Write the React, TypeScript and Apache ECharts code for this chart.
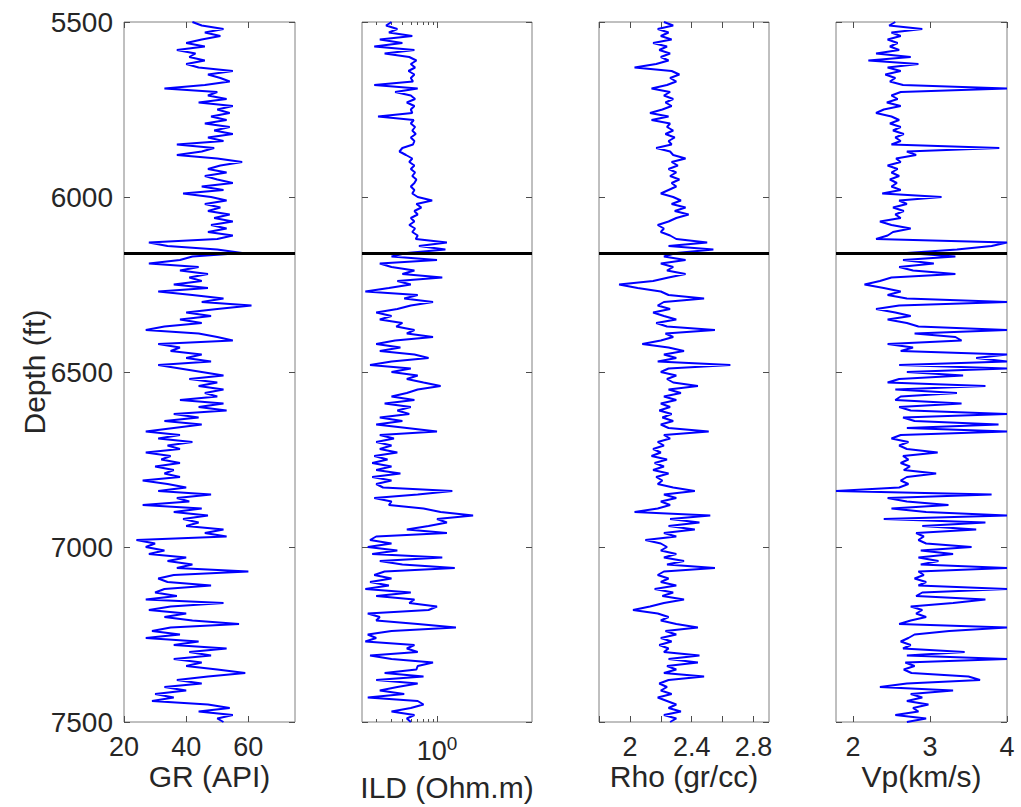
import React, { useEffect, useRef } from "react";
import * as echarts from "echarts";

// depth sampling grid (ft), 10-ft step from 5500 to 7500
const DEPTHS: number[] = Array.from({ length: 201 }, (_, i) => 5500 + 10 * i);

// GR (API)
const GR = [
  42, 45, 52, 46, 51, 45, 40, 46, 37, 43,
  41, 46, 40, 44, 55, 47, 51, 54, 46, 33,
  50, 47, 53, 44, 55, 50, 54, 48, 53, 46,
  54, 49, 55, 47, 52, 37, 49, 45, 37, 50,
  58, 51, 47, 53, 46, 50, 55, 45, 52, 39,
  48, 53, 46, 51, 47, 54, 49, 55, 48, 53,
  47, 55, 50, 28, 34, 50, 58, 42, 38, 28,
  44, 38, 47, 41, 45, 36, 47, 31, 42, 52,
  45, 61, 50, 40, 48, 38, 45, 33, 27, 44,
  50, 55, 31, 38, 35, 45, 40, 48, 31, 38,
  45, 52, 41, 50, 44, 52, 46, 50, 38, 52,
  44, 53, 36, 44, 33, 45, 36, 27, 38, 31,
  42, 34, 38, 27, 35, 32, 38, 30, 36, 33,
  38, 26, 34, 40, 31, 48, 37, 41, 26, 45,
  36, 47, 39, 44, 40, 52, 46, 53, 24, 30,
  27, 33, 28, 40, 34, 42, 37, 60, 36, 31,
  34, 48, 33, 30, 37, 27, 52, 35, 28, 40,
  33, 42, 57, 35, 29, 38, 27, 44, 36, 53,
  41, 48, 36, 45, 40, 50, 59, 47, 37, 45,
  33, 40, 30, 36, 29, 47, 54, 44, 55, 50,
  52,
];

// ILD (Ohm.m)
const ILD = [
  0.30, 0.26, 0.35, 0.28, 0.52, 0.22, 0.40, 0.19, 0.55, 0.25,
  0.48, 0.58, 0.50, 0.56, 0.47, 0.55, 0.50, 0.53, 0.19, 0.60,
  0.33, 0.50, 0.56, 0.45, 0.55, 0.50, 0.52, 0.21, 0.54, 0.50,
  0.56, 0.52, 0.57, 0.50, 0.55, 0.53, 0.40, 0.37, 0.44, 0.52,
  0.48, 0.55, 0.50, 0.56, 0.52, 0.58, 0.55, 0.50, 0.55, 0.52,
  0.60, 0.88, 0.58, 0.66, 0.55, 0.60, 0.50, 0.55, 0.48, 0.56,
  0.52, 0.60, 0.57, 1.30, 0.62, 1.25, 0.45, 0.30, 1.00, 0.22,
  0.30, 0.55, 0.40, 1.15, 0.35, 0.50, 0.28, 0.15, 0.60, 0.42,
  0.90, 0.50, 0.35, 0.20, 0.30, 0.22, 0.40, 0.34, 0.55, 0.45,
  0.90, 0.33, 0.20, 0.38, 0.22, 0.55, 0.80, 0.30, 0.17, 0.50,
  0.30, 0.60, 0.45, 0.70, 1.10, 0.60, 0.45, 0.30, 0.55, 0.25,
  0.50, 0.35, 0.48, 0.22, 0.40, 0.20, 0.45, 1.00, 0.22, 0.32,
  0.20, 0.30, 0.22, 0.35, 0.19, 0.27, 0.18, 0.30, 0.20, 0.38,
  0.18, 0.30, 0.20, 0.24, 1.50, 0.60, 0.19, 0.30, 0.28, 0.70,
  1.10, 2.60, 1.00, 1.30, 0.80, 0.45, 1.30, 0.20, 0.17, 0.30,
  0.16, 0.35, 0.18, 1.15, 0.22, 0.40, 1.60, 0.25, 0.19, 0.30,
  0.17, 0.28, 0.15, 0.50, 0.20, 0.55, 0.48, 1.00, 0.80, 0.16,
  0.22, 0.20, 0.60, 1.65, 0.30, 0.16, 0.20, 0.15, 0.55, 0.45,
  0.60, 0.17, 0.30, 0.90, 0.60, 0.58, 0.25, 0.70, 0.20, 0.60,
  0.35, 0.22, 0.42, 0.16, 0.60, 0.70, 0.50, 0.30, 0.55, 0.45,
  0.50,
];

// Rho (gr/cc)
const RHO = [
  2.22, 2.28, 2.18, 2.25, 2.20, 2.27, 2.15, 2.24, 2.19, 2.26,
  2.20, 2.25, 2.17, 2.03, 2.27, 2.32, 2.26, 2.30, 2.24, 2.14,
  2.26, 2.22, 2.28, 2.23, 2.27, 2.21, 2.13, 2.25, 2.14, 2.26,
  2.24, 2.28, 2.23, 2.29, 2.25, 2.27, 2.17, 2.26, 2.28, 2.36,
  2.27, 2.31, 2.25, 2.30, 2.26, 2.32, 2.27, 2.30, 2.25, 2.20,
  2.28, 2.33, 2.27, 2.36, 2.29, 2.38, 2.30, 2.25, 2.18, 2.22,
  2.20, 2.26, 2.30, 2.50, 2.25, 2.54, 2.30, 2.22, 2.36, 2.20,
  2.28, 2.24, 2.36, 2.25, 2.15, 1.93, 2.05, 2.20, 2.25, 2.48,
  2.22, 2.18, 2.26, 2.15, 2.22, 2.30, 2.17, 2.24, 2.55, 2.23,
  2.28, 2.20, 2.08, 2.25, 2.35, 2.22, 2.30, 2.18, 2.65, 2.25,
  2.20, 2.30, 2.24, 2.28, 2.44, 2.25, 2.33, 2.22, 2.30, 2.20,
  2.26, 2.19, 2.27, 2.21, 2.28, 2.20, 2.25, 2.51, 2.22, 2.26,
  2.18, 2.22, 2.15, 2.20, 2.14, 2.24, 2.16, 2.22, 2.15, 2.25,
  2.17, 2.21, 2.18, 2.28, 2.42, 2.22, 2.30, 2.20, 2.26, 2.18,
  2.03, 2.52, 2.26, 2.45, 2.25, 2.42, 2.22, 2.30, 2.10, 2.20,
  2.24, 2.20, 2.30, 2.22, 2.35, 2.24, 2.55, 2.22, 2.18, 2.25,
  2.20, 2.30, 2.16, 2.28, 2.21, 2.35, 2.22, 2.13, 2.02, 2.18,
  2.25, 2.20, 2.30, 2.44, 2.23, 2.30, 2.20, 2.27, 2.19, 2.25,
  2.22, 2.45, 2.25, 2.44, 2.24, 2.30, 2.22, 2.48, 2.25, 2.19,
  2.24, 2.20, 2.27, 2.18, 2.24, 2.30, 2.25, 2.33, 2.22, 2.30,
  2.26,
];

// Vp (km/s)
const VP = [
  2.55, 2.47, 2.90, 2.50, 2.62, 2.45, 2.58, 2.48, 2.60, 2.30,
  2.75, 2.20, 2.85, 2.45, 2.62, 2.42, 2.55, 2.48, 2.65, 4.00,
  2.62, 2.50, 2.58, 2.44, 2.62, 2.40, 2.30, 2.50, 2.60, 2.48,
  2.62, 2.52, 2.66, 2.55, 2.62, 2.50, 3.90, 2.70, 2.82, 2.56,
  2.62, 2.45, 2.58, 2.50, 2.60, 2.48, 2.57, 2.50, 2.62, 2.38,
  3.15, 2.60, 2.70, 2.52, 2.66, 2.55, 2.62, 2.35, 2.50, 2.75,
  2.52, 2.45, 2.30, 4.00, 3.80, 3.35, 2.70, 3.33, 2.65, 3.05,
  2.60, 2.78, 3.33, 2.50, 2.35, 2.15, 2.40, 2.62, 2.45, 2.70,
  4.00, 2.60, 2.30, 2.55, 2.75, 2.45, 2.70, 2.85, 4.00, 2.80,
  3.33, 3.41, 2.45, 2.78, 2.62, 4.00, 3.60, 4.00, 2.60, 4.00,
  2.70, 3.43, 2.60, 2.45, 3.72, 2.55, 3.35, 2.62, 2.55, 3.41,
  2.60, 2.75, 4.00, 2.65, 2.80, 3.89, 2.70, 4.00, 2.62, 2.50,
  2.72, 2.60, 2.70, 3.10, 2.65, 2.72, 2.62, 2.74, 2.66, 3.08,
  2.70, 2.62, 2.72, 2.60, 1.78, 3.80, 2.45, 2.70, 3.24, 2.50,
  2.95, 4.00, 2.40, 3.72, 2.90, 3.60, 2.82, 2.92, 2.85, 2.95,
  3.54, 2.88, 3.30, 2.85, 3.11, 2.88, 4.00, 2.85, 2.92, 2.80,
  2.95, 2.85, 4.00, 2.90, 2.82, 3.72, 3.30, 2.75, 2.90, 2.82,
  2.95, 2.75, 2.60, 4.00, 3.25, 2.80, 2.72, 2.62, 2.75, 2.65,
  3.45, 2.70, 4.00, 2.68, 2.80, 2.66, 2.76, 3.50, 3.65, 2.70,
  2.35, 3.30, 2.75, 2.90, 2.70, 2.98, 2.78, 2.85, 2.55, 2.95,
  2.70,
];

const DEPTH_LABEL_TICKS = [5500, 6000, 6500, 7000, 7500];
const GR_TICKS = [20, 40, 60];
const ILD_MINOR_TICKS = [0.2, 0.3, 0.4, 0.5, 0.6, 0.7, 0.8, 0.9];
const ILD_MAJOR_TICKS = [1];
const RHO_TICKS = [1.8, 2.0, 2.2, 2.4, 2.6, 2.8];
const RHO_LABELS = [2, 2.4, 2.8];
const VP_TICKS = [2, 3, 4];
const MARKER_DEPTH = 6161;

const TEXT = "#262626";
const FONT = "Liberation Sans, Arial, Helvetica, sans-serif";
const TICK_FONT = 27;
const NAME_FONT = 30;

type Track = {
  name: string;
  values: number[];
  axisType: "value" | "log";
  min: number;
  max: number;
  left: number;
  width: number;
  tickSets: { values: number[]; length: number }[];
  labels: number[];
  nameGap: number;
  labelMargin: number;
  rich?: boolean;
};

const TRACKS: Track[] = [
  {
    name: "GR (API)", values: GR, axisType: "value", min: 20, max: 75,
    left: 124, width: 171, tickSets: [{ values: GR_TICKS, length: 6 }],
    labels: GR_TICKS, nameGap: 41, labelMargin: 14,
  },
  {
    name: "ILD (Ohm.m)", values: ILD, axisType: "log", min: 0.1374, max: 12.36,
    left: 362, width: 170,
    tickSets: [{ values: ILD_MINOR_TICKS, length: 3 }, { values: ILD_MAJOR_TICKS, length: 6 }],
    labels: ILD_MAJOR_TICKS, nameGap: 52, labelMargin: 12, rich: true,
  },
  {
    name: "Rho (gr/cc)", values: RHO, axisType: "value", min: 1.8, max: 2.9,
    left: 599, width: 170, tickSets: [{ values: RHO_TICKS, length: 6 }],
    labels: RHO_LABELS, nameGap: 41, labelMargin: 14,
  },
  {
    name: "Vp(km/s)", values: VP, axisType: "value", min: 1.78, max: 4,
    left: 836, width: 171, tickSets: [{ values: VP_TICKS, length: 6 }],
    labels: VP_TICKS, nameGap: 41, labelMargin: 14,
  },
];

function buildOption() {
  const grid: any[] = [];
  const xAxis: any[] = [];
  const yAxis: any[] = [];
  const series: any[] = [];

  TRACKS.forEach((t, k) => {
    grid.push({
      left: t.left, top: 22, width: t.width, height: 700,
      show: true, borderColor: "#808080", borderWidth: 1, backgroundColor: "#fff",
      containLabel: false, outerBoundsMode: "none",
    });

    const mainXIndex = xAxis.length;
    t.tickSets.forEach((ts, si) => {
      ["bottom", "top"].forEach((pos) => {
        const isMain = si === 0 && pos === "bottom";
        xAxis.push({
          gridIndex: k,
          type: t.axisType,
          logBase: 10,
          min: t.min,
          max: t.max,
          position: pos,
          name: isMain ? t.name : "",
          nameLocation: "middle",
          nameGap: t.nameGap,
          nameMoveOverlap: false,
          nameTextStyle: { fontSize: NAME_FONT, lineHeight: 26, color: TEXT, fontFamily: FONT },
          axisLine: { show: false },
          splitLine: { show: false },
          minorTick: { show: false },
          axisTick: {
            show: true, inside: true, length: ts.length,
            customValues: ts.values,
            lineStyle: { color: "#4d4d4d", width: 1 },
          },
          axisLabel: isMain
            ? {
                show: true,
                customValues: t.labels,
                margin: t.labelMargin,
                fontSize: TICK_FONT,
                lineHeight: 22,
                color: TEXT,
                fontFamily: FONT,
                formatter: t.rich
                  ? (v: number) => (Math.abs(v - 1) < 1e-6 ? "{b|10}{s|0}" : "")
                  : (v: number) => String(v),
                rich: t.rich
                  ? {
                      b: { fontSize: TICK_FONT, lineHeight: 30, verticalAlign: "bottom", color: TEXT, fontFamily: FONT },
                      s: { fontSize: 19, lineHeight: 14, verticalAlign: "top", color: TEXT, fontFamily: FONT },
                    }
                  : undefined,
              }
            : { show: false },
        });
      });
    });

    const mainYIndex = yAxis.length;
    ["left", "right"].forEach((pos) => {
      const isMain = pos === "left";
      yAxis.push({
        gridIndex: k,
        type: "value",
        inverse: true,
        min: 5500,
        max: 7500,
        interval: 500,
        position: pos,
        name: isMain && k === 0 ? "Depth (ft)" : "",
        nameLocation: "middle",
        nameGap: 76,
        nameRotate: 90,
        nameMoveOverlap: false,
        nameTextStyle: { fontSize: NAME_FONT, lineHeight: 28, color: TEXT, fontFamily: FONT },
        axisLine: { show: false },
        splitLine: { show: false },
        axisTick: { show: true, inside: true, length: 6, lineStyle: { color: "#4d4d4d", width: 1 } },
        axisLabel:
          isMain && k === 0
            ? {
                show: true, margin: 11, fontSize: 28, color: TEXT, fontFamily: FONT,
                customValues: DEPTH_LABEL_TICKS,
                formatter: (v: number) => String(v),
              }
            : { show: false },
      });
    });

    series.push({
      type: "line",
      xAxisIndex: mainXIndex,
      yAxisIndex: mainYIndex,
      data: DEPTHS.map((d, i) => [t.values[i], d]),
      showSymbol: false,
      symbol: "none",
      lineStyle: { color: "#0000ff", width: 2 },
      silent: true,
      markLine: {
        silent: true,
        symbol: ["none", "none"],
        label: { show: false },
        lineStyle: { color: "#000", width: 3, type: "solid" },
        data: [{ yAxis: MARKER_DEPTH }],
      },
    });
  });

  return {
    animation: false,
    backgroundColor: "#fff",
    textStyle: { fontFamily: FONT },
    grid,
    xAxis,
    yAxis,
    series,
  };
}

export default function App() {
  const ref = useRef<HTMLDivElement>(null);
  useEffect(() => {
    if (!ref.current) return;
    const chart = echarts.init(ref.current, undefined, { renderer: "svg" });
    chart.setOption(buildOption() as any);
    return () => chart.dispose();
  }, []);
  return (
    <div
      ref={ref}
      style={{ position: "fixed", left: 0, top: 0, width: 1021, height: 807, background: "#fff" }}
    />
  );
}
